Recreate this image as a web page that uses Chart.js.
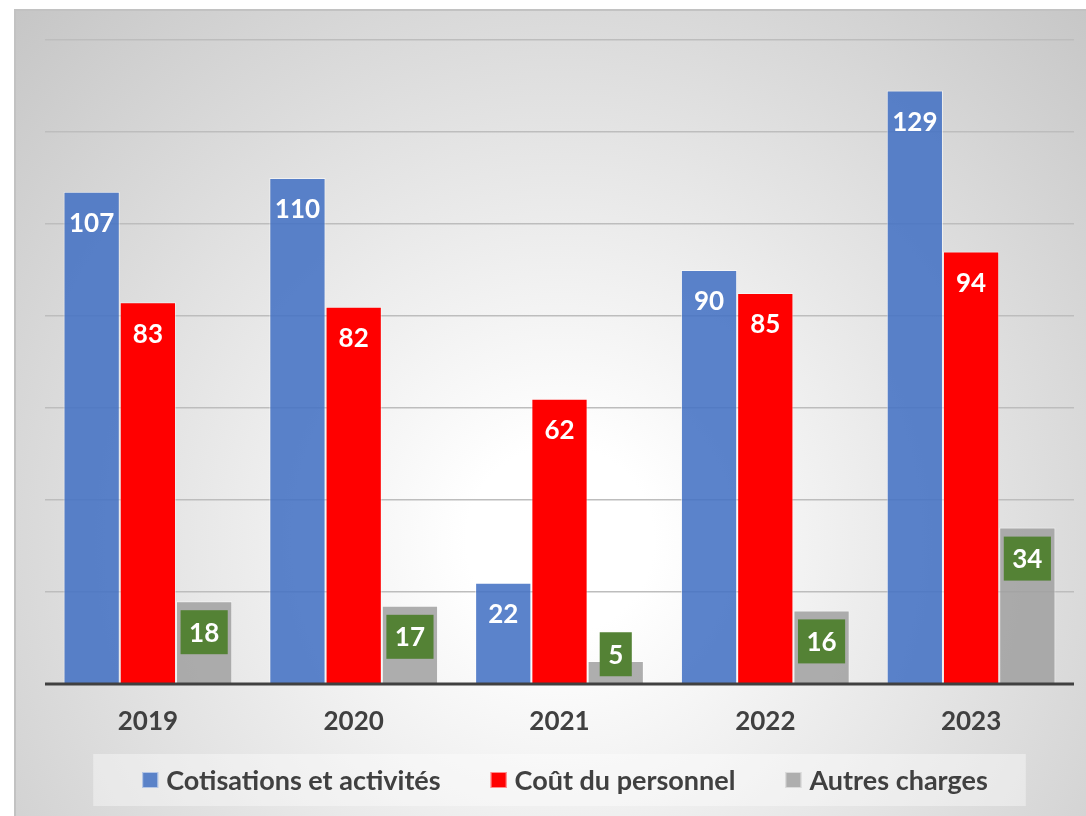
<!DOCTYPE html>
<html>
<head>
<meta charset="utf-8">
<script src="https://cdn.jsdelivr.net/npm/chart.js@4"></script>
<style>
  html, body { margin: 0; padding: 0; background: #ffffff; }
  #wrap { position: relative; width: 1086px; height: 816px; }
</style>
</head>
<body>
<div id="wrap"><canvas id="c" width="1086" height="816"></canvas></div>
<script>
const categories = ['2019', '2020', '2021', '2022', '2023'];
const seriesNames = ['Cotisations et activités', 'Coût du personnel', 'Autres charges'];
const cotisations = [107, 110, 22, 90, 129];
const personnel = [83, 82, 62, 85, 94];
const autres = [18, 17, 5, 16, 34];
const yTicks = [0, 20, 40, 60, 80, 100, 120, 140];

const FONT = 'Lato, "Open Sans", sans-serif';

const framePlugin = {
  id: 'frame',
  beforeDraw(chart) {
    const ctx = chart.ctx;
    ctx.save();
    ctx.fillStyle = '#ffffff';
    ctx.fillRect(0, 0, chart.width, chart.height);
    const g = ctx.createRadialGradient(560, 540, 0, 560, 540, 780);
    g.addColorStop(0, '#ffffff');
    g.addColorStop(0.12, '#ffffff');
    g.addColorStop(1, '#c4c4c4');
    ctx.fillStyle = g;
    ctx.fillRect(15, 10, chart.width - 15, chart.height - 10);
    ctx.strokeStyle = '#c2c2c2';
    ctx.lineWidth = 2;
    ctx.beginPath();
    ctx.moveTo(15, chart.height);
    ctx.lineTo(15, 10);
    ctx.lineTo(chart.width, 10);
    ctx.stroke();
    ctx.restore();
  }
};

const labelPlugin = {
  id: 'labels',
  afterDatasetsDraw(chart) {
    const ctx = chart.ctx;
    const area = chart.chartArea;
    const y0 = chart.scales.y.getPixelForValue(0);
    ctx.save();
    ctx.strokeStyle = '#404040';
    ctx.lineWidth = 3;
    ctx.beginPath();
    ctx.moveTo(area.left, y0);
    ctx.lineTo(area.right, y0);
    ctx.stroke();

    ctx.font = 'bold 26px ' + FONT;
    ctx.textAlign = 'center';
    ctx.textBaseline = 'middle';
    chart.data.datasets.forEach((ds, di) => {
      const meta = chart.getDatasetMeta(di);
      meta.data.forEach((bar, i) => {
        const txt = String(ds.data[i]);
        const cy = Math.min(bar.y + 31, bar.base - 29);
        if (di === 2) {
          const tw = ctx.measureText(txt).width;
          const bw = tw + 17, bh = 44;
          ctx.fillStyle = '#548235';
          ctx.fillRect(bar.x - bw / 2, cy - bh / 2, bw, bh);
        }
        ctx.fillStyle = '#ffffff';
        ctx.fillText(txt, bar.x, cy + 1);
      });
    });
    ctx.restore();
  }
};

const legendPlugin = {
  id: 'customLegend',
  afterDraw(chart) {
    const ctx = chart.ctx;
    ctx.save();
    ctx.font = 'bold 27px ' + FONT;
    const items = chart.data.datasets.map(ds => ({
      text: ds.label, color: ds.legendColor, w: ctx.measureText(ds.label).width
    }));
    const box = 16, gapBT = 8, gapItem = 50;
    let total = 0;
    items.forEach((it, i) => { total += box + gapBT + it.w + (i < items.length - 1 ? gapItem : 0); });
    let x = 565 - total / 2;
    const bgLeft = x - 49, bgRight = x + total + 38;
    ctx.fillStyle = 'rgba(255,255,255,0.38)';
    ctx.fillRect(bgLeft, 754, bgRight - bgLeft, 52);
    const cy = 780;
    items.forEach(it => {
      ctx.fillStyle = it.color;
      ctx.fillRect(x, cy - 8, box, box);
      ctx.strokeStyle = 'rgba(255,255,255,0.55)';
      ctx.lineWidth = 1;
      ctx.strokeRect(x + 0.5, cy - 7.5, box - 1, box - 1);
      ctx.fillStyle = '#404040';
      ctx.textAlign = 'left';
      ctx.textBaseline = 'middle';
      ctx.fillText(it.text, x + box + gapBT, cy + 1);
      x += box + gapBT + it.w + gapItem;
    });
    ctx.restore();
  }
};

new Chart(document.getElementById('c'), {
  type: 'bar',
  data: {
    labels: categories,
    datasets: [
      { label: seriesNames[0], data: cotisations, backgroundColor: 'rgba(68,114,196,0.88)', legendColor: '#5a82c8',
        borderColor: 'rgba(255,255,255,0.55)', borderWidth: 1, borderSkipped: 'start' },
      { label: seriesNames[1], data: personnel, backgroundColor: '#ff0000', legendColor: '#ff0000',
        borderColor: 'rgba(255,255,255,0.45)', borderWidth: 1, borderSkipped: 'start' },
      { label: seriesNames[2], data: autres, backgroundColor: 'rgba(160,160,160,0.85)', legendColor: '#aeaeae',
        borderColor: 'rgba(255,255,255,0.5)', borderWidth: 1, borderSkipped: 'start' }
    ]
  },
  options: {
    responsive: false,
    animation: false,
    devicePixelRatio: 1,
    layout: { padding: { left: 45, right: 12, top: 40, bottom: 0 } },
    datasets: { bar: { categoryPercentage: 0.82, barPercentage: 1.0 } },
    plugins: { legend: { display: false }, tooltip: { enabled: false }, title: { display: false } },
    scales: {
      x: {
        grid: { display: false, drawTicks: false },
        border: { display: false },
        ticks: { font: { family: FONT, weight: 'bold', size: 26 }, color: '#404040', padding: 22 },
        afterFit(s) { s.height = 132; }
      },
      y: {
        min: yTicks[0], max: yTicks[yTicks.length - 1],
        afterBuildTicks(s) { s.ticks = yTicks.map(v => ({ value: v })); },
        ticks: { display: false },
        grid: { color: c => c.tick && c.tick.value === 0 ? 'rgba(0,0,0,0)' : '#bdbdbd', lineWidth: 1.5, drawTicks: false },
        border: { display: false },
        afterFit(s) { s.width = 0; }
      }
    }
  },
  plugins: [framePlugin, labelPlugin, legendPlugin]
});
</script>
</body>
</html>
